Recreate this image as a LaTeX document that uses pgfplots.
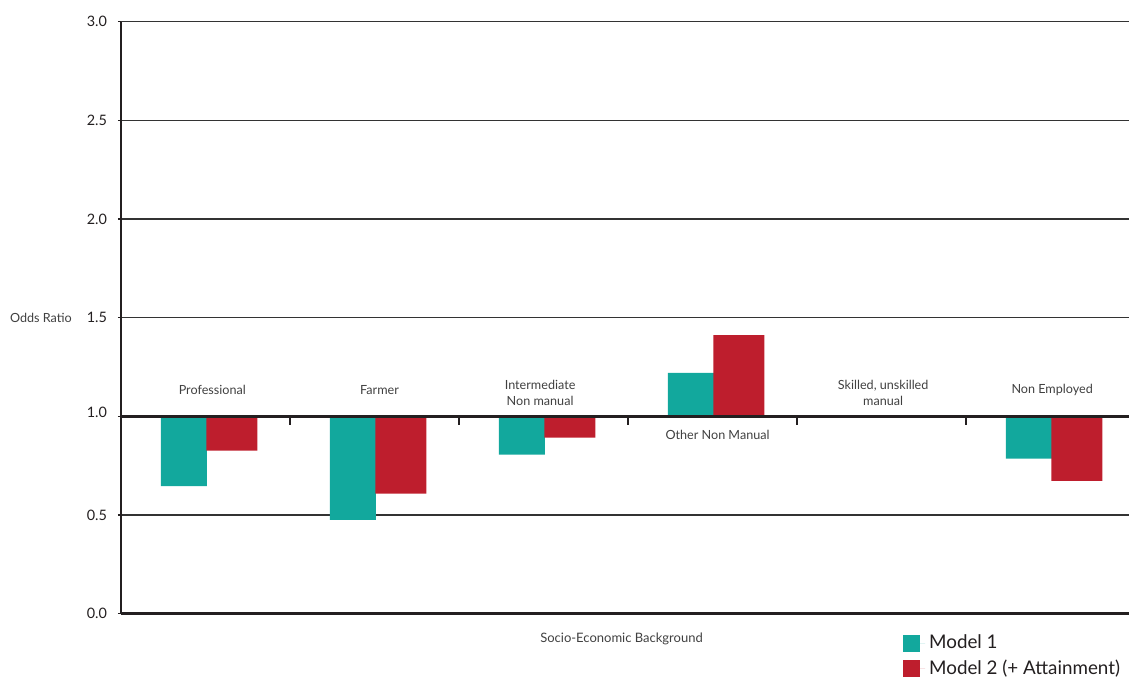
\documentclass[border=0pt]{standalone}
\usepackage{pgfplots}
\pgfplotsset{compat=1.18}
\usepackage{fontspec}
\setmainfont{Lato}
\definecolor{mteal}{HTML}{12A89D}
\definecolor{mred}{HTML}{BE1E2D}
\definecolor{ink}{HTML}{231F20}
\definecolor{txt}{HTML}{404040}

\begin{document}
\begin{tikzpicture}
\begin{axis}[
    at={(0,0)}, anchor=south west,
    scale only axis,
    width=507pt, height=296pt,
    xmin=-0.5, xmax=5.5,
    ymin=0, ymax=3,
    % bars hang from 1.0 (odds ratio baseline)
    y coord trafo/.code={\pgfmathparse{#1-1}},
    y coord inv trafo/.code={\pgfmathparse{#1+1}},
    ytick={0,0.5,1,1.5,2,2.5,3},
    yticklabels={0.0,0.5,\raisebox{4pt}{1.0},1.5,2.0,2.5,3.0},
    xtick=\empty,
    axis lines*=left,
    axis line style={ink, line width=1.35pt},
    tick align=outside,
    major tick length=1.5pt,
    ytick style={ink, line width=0.7pt},
    ymajorgrids,
    grid style={black!80, line width=0.7pt},
    /pgf/number format/assume math mode=true,
    yticklabel style={font=\fontsize{7.2}{8}\selectfont, text=ink, xshift=-2pt},
    ylabel={Odds Ratio},
    ylabel style={rotate=-90, at={(axis description cs:-0.079,0.4995)}, anchor=center,
        font=\fontsize{6.3}{7}\selectfont, text=txt},
    xlabel={Socio-Economic Background},
    xlabel style={at={(axis description cs:0.4936,-0.043)}, anchor=center,
        font=\fontsize{6.5}{7}\selectfont, text=txt},
    legend style={draw=none, fill=none, at={(axis description cs:0.771,-0.028)},
        anchor=north west, inner sep=0pt, row sep=0pt,
        font=\fontsize{9.4}{10}\selectfont, text=ink},
    legend cell align=left,
]
\addplot[ybar, fill=mteal, draw=none, bar width=23pt, bar shift=-10.75pt,
    legend image code/.code={\fill[mteal] (0pt,-4.25pt) rectangle (8.5pt,4.25pt);
        \path (0pt,0pt) -- (11pt,0pt);}]
    coordinates {(0,0.647) (1,0.475) (2,0.806) (3,1.220) (5,0.786)};
\addlegendentry{Model 1}
\addplot[ybar, fill=mred, draw=none, bar width=25.5pt, bar shift=13.25pt,
    legend image code/.code={\fill[mred] (0pt,-4.25pt) rectangle (8.5pt,4.25pt);
        \path (0pt,0pt) -- (11pt,0pt);}]
    coordinates {(0,0.826) (1,0.608) (2,0.892) (3,1.412) (5,0.673)};
\addlegendentry{Model 2 (+ Attainment)}

\draw[ink, line width=1.6pt] (axis cs:-0.5,1) -- (axis cs:5.5,1);
\pgfplotsinvokeforeach{0.5,1.5,2.5,3.5,4.5}{
    \draw[ink, line width=1pt] (axis cs:#1,1) -- ([yshift=-4.5pt]axis cs:#1,1);
}

\begin{scope}[every node/.style={font=\fontsize{6.3}{8}\selectfont, text=txt, align=center}]
\node at (axis cs:0.04,1.134) {Professional};
\node at (axis cs:1.03,1.134) {Farmer};
\node at (axis cs:1.98,1.119) {Intermediate\\Non manual};
\node at (axis cs:3.03,0.906) {Other Non Manual};
\node at (axis cs:4.01,1.119) {Skilled, unskilled\\manual};
\node at (axis cs:5.01,1.134) {Non Employed};
\end{scope}
\end{axis}
\pgfresetboundingbox
\useasboundingbox (-60.5pt,-32.15pt) rectangle (504pt,306.85pt);
\end{tikzpicture}
\end{document}
